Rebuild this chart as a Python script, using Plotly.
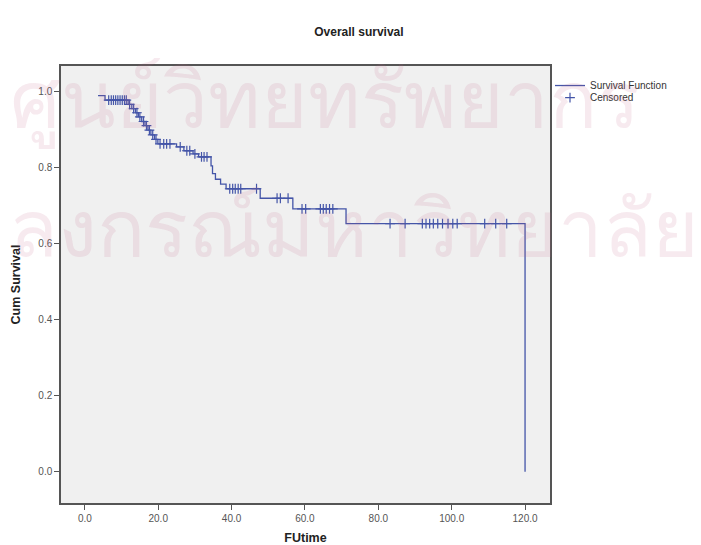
import plotly.graph_objects as go

# Kaplan-Meier step curve (time, cumulative survival after the event)
step_time = [3.6, 5.5, 11.8, 12.8, 13.8, 14.6, 15.5, 16.4, 17.2, 18.0, 19.0, 19.9,
             25.0, 27.0, 29.5, 31.0, 34.4, 34.8, 35.6, 37.0, 38.5, 47.8, 56.7, 71.2, 120.0]
step_surv = [0.990, 0.978, 0.967, 0.956, 0.945, 0.934, 0.922, 0.911, 0.899, 0.887, 0.875, 0.863,
             0.855, 0.845, 0.837, 0.829, 0.805, 0.785, 0.770, 0.757, 0.745, 0.720, 0.692, 0.653, 0.0]

# Censored observations (time, survival level)
cens_time = [6.5, 7.2, 7.8, 8.4, 9.0, 9.6, 10.2, 10.8, 11.3,
             12.2, 13.3, 14.2, 15.0, 16.0, 16.8, 17.6, 18.5, 19.4,
             20.5, 21.5, 22.3, 23.2, 26.0, 27.8, 28.6, 30.0, 31.8, 32.5, 33.3,
             39.5, 40.3, 41.0, 41.8, 42.5, 46.8,
             52.4, 53.3, 55.4,
             59.2, 60.2, 64.2, 65.0, 65.8, 66.7, 67.6,
             83.2, 87.3, 92.0, 93.0, 94.0, 95.0, 96.2, 97.5, 99.0, 100.3, 101.5, 109.0, 112.0, 115.0]
cens_surv = [0.978] * 9 + \
            [0.967, 0.956, 0.945, 0.934, 0.922, 0.911, 0.899, 0.887, 0.875] + \
            [0.863] * 4 + [0.855, 0.845, 0.845, 0.837, 0.829, 0.829, 0.829] + \
            [0.745] * 6 + [0.720] * 3 + [0.692] * 7 + [0.653] * 14

x_ticks = [0, 20, 40, 60, 80, 100, 120]
x_tick_labels = ["0.0", "20.0", "40.0", "60.0", "80.0", "100.0", "120.0"]
y_ticks = [0.0, 0.2, 0.4, 0.6, 0.8, 1.0]
y_tick_labels = ["0.0", "0.2", "0.4", "0.6", "0.8", "1.0"]

# visible part of the page watermark
watermark_lines = ["ศูนย์วิทยทรัพยากร", "ลงกรณ์มหาวิทยาลัย"]

BLUE = "#4455a8"
FONT = "Liberation Sans, Arial, sans-serif"
WM = dict(size=80, color="rgba(190,90,130,0.13)", family="Noto Sans, DejaVu Sans, sans-serif")

fig = go.Figure()
fig.add_trace(go.Scatter(
    x=step_time, y=step_surv, mode="lines", line=dict(color=BLUE, width=1.3, shape="hv"),
    name="Survival Function", legend="legend"))
fig.add_trace(go.Scatter(
    x=cens_time, y=cens_surv, mode="markers", name="Censored", legend="legend2",
    marker=dict(symbol="cross-thin", size=7, line=dict(color=BLUE, width=1.2), color=BLUE)))

# faint background watermark of the scanned page
fig.add_annotation(text=watermark_lines[0], xref="paper", yref="paper", x=0.54, y=0.93,
                   xanchor="center", yanchor="middle", showarrow=False, font=WM)
fig.add_annotation(text=watermark_lines[1], xref="paper", yref="paper", x=1.308, y=0.635,
                   xanchor="right", yanchor="middle", showarrow=False, font=WM)

leg_common = dict(x=1.0, xanchor="left", yanchor="top", bgcolor="rgba(0,0,0,0)",
                  font=dict(size=10, color="#333"), itemwidth=30)

fig.update_layout(
    width=701, height=545,
    margin=dict(l=61, r=151, t=66, b=42),
    paper_bgcolor="white", plot_bgcolor="#f0f0f0",
    font=dict(family=FONT, size=10, color="#555"),
    title=dict(text="<b>Overall survival</b>", x=0.512, xanchor="center", y=0.941, yanchor="middle",
               font=dict(size=12, color="#222")),
    showlegend=True,
    legend=dict(y=0.9885, **leg_common),
    legend2=dict(y=0.961, **leg_common),
    xaxis=dict(range=[-6.5, 126.8], tickvals=x_ticks, ticktext=x_tick_labels, automargin=False,
               showgrid=False, zeroline=False, ticks="outside", ticklen=5, tickcolor="#555",
               showline=True, linecolor="#555", linewidth=1.5, mirror=True,
               title=dict(text="<b>FUtime</b>", font=dict(size=12.5, color="#222"), standoff=13)),
    yaxis=dict(range=[-0.082, 1.068], tickvals=y_ticks, ticktext=y_tick_labels, automargin=False,
               showgrid=False, zeroline=False, ticks="outside", ticklen=5, tickcolor="#555",
               showline=True, linecolor="#555", linewidth=1.5, mirror=True,
               title=dict(text="<b>Cum Survival</b>", font=dict(size=12.5, color="#222"), standoff=15)),
)

fig.write_html("out.html", config={"displayModeBar": False},
               post_script="document.body.style.margin='0';")
